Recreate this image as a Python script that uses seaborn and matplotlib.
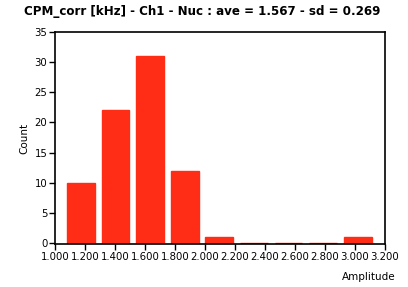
import numpy as np
import pandas as pd
import matplotlib
matplotlib.use("Agg")
import matplotlib.pyplot as plt
import seaborn as sns

# data
bin_centers = [1.173, 1.404, 1.635, 1.866, 2.097, 2.328, 2.559, 2.790, 3.021]
counts = [10, 22, 31, 12, 1, 0, 0, 0, 1]
bin_width = 0.231
x_ticks = [1.0, 1.2, 1.4, 1.6, 1.8, 2.0, 2.2, 2.4, 2.6, 2.8, 3.0, 3.2]
y_ticks = [0, 5, 10, 15, 20, 25, 30, 35]
title = "CPM_corr [kHz] - Ch1 - Nuc : ave = 1.567 - sd = 0.269"

sns.set_style("white")
plt.rcParams['font.family'] = ['DejaVu Sans']
plt.rcParams['text.color'] = 'black'
plt.rcParams['axes.labelcolor'] = 'black'
plt.rcParams['xtick.color'] = 'black'
plt.rcParams['ytick.color'] = 'black'

df = pd.DataFrame({"Amplitude": bin_centers, "Count": counts})
edges = [bin_centers[0] - bin_width / 2 + i * bin_width for i in range(len(bin_centers) + 1)]

fig = plt.figure(figsize=(4.08, 2.87), dpi=100)
ax = fig.add_axes([55 / 408, (287 - 244) / 287, (384.5 - 55) / 408, (244 - 32) / 287])

color = "#FF2D16"
sns.histplot(data=df, x="Amplitude", weights="Count", bins=edges, shrink=0.8,
             color=color, alpha=1, edgecolor=color, linewidth=1.0, ax=ax)

ax.set_xlim(1.0, 3.2)
ax.set_ylim(-0.15, 35)
ax.set_xticks(x_ticks)
ax.set_xticklabels([f"{v:.3f}" for v in x_ticks])
ax.set_yticks(y_ticks)
ax.set_xlabel("")
ax.set_ylabel("Count", fontsize=7.5, labelpad=3.5)
ax.tick_params(axis="both", which="major", direction="out", length=4, width=1,
               color="black", labelcolor="black", labelsize=7.3, pad=1.5,
               bottom=True, left=True)
for s in ax.spines.values():
    s.set_visible(True)
    s.set_color("black")
    s.set_linewidth(1.2)

fig.text(396 / 408, 1 - 277 / 287, "Amplitude", ha="right", va="center",
         fontsize=7.5, color="black")
fig.text(202 / 408, 1 - 12 / 287, title, ha="center", va="center",
         fontsize=8.6, fontweight="bold", color="black")

fig.savefig("out.png", dpi=100)
